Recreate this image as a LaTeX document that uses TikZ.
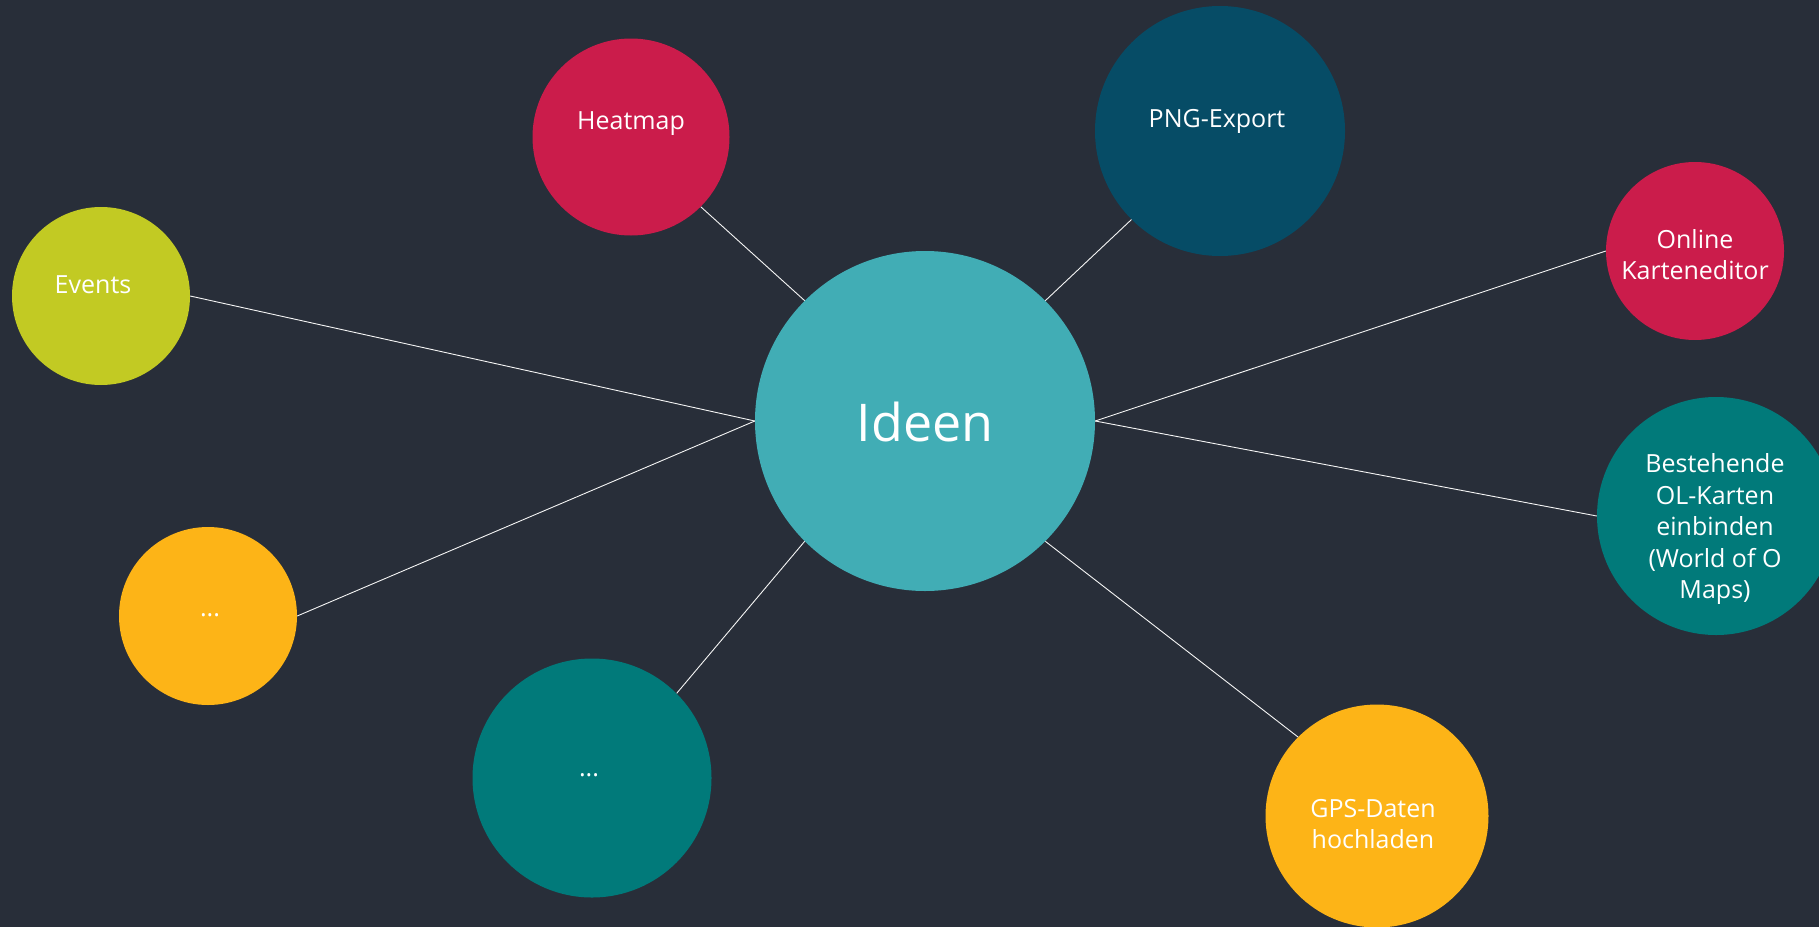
\documentclass[tikz,border=0pt]{standalone}
\usepackage{fontspec}
\setmainfont{Open Sans}
\definecolor{bg}{HTML}{282E39}
\definecolor{crimson}{HTML}{CB1C4B}
\definecolor{lime}{HTML}{C2CA23}
\definecolor{amber}{HTML}{FDB417}
\definecolor{teal2}{HTML}{017A7A}
\definecolor{navy2}{HTML}{064C66}
\definecolor{aqua}{HTML}{41ADB5}
\tikzset{
  bubble/.style={circle, inner sep=0pt, draw=none},
  lbl/.style={text=white, align=center, anchor=base, inner sep=0pt, font=\fontsize{25}{31.5}\selectfont},
  link/.style={draw=white!92!gray, line width=0.9pt}
}
\begin{document}
\begin{tikzpicture}[x=1pt,y=-1pt]
\useasboundingbox (0,0) rectangle (1819,926);
\clip (-6,-6) rectangle (1825,932);
\fill[bg] (-6,-6) rectangle (1825,932);
% bubbles
\node[bubble, fill=aqua, minimum size=340pt] (ideen) at (925,421) {};
\node[bubble, fill=crimson, minimum size=197pt] (heatmap) at (631,137) {};
\node[bubble, fill=navy2, minimum size=250pt] (png) at (1220,131) {};
\node[bubble, fill=lime, minimum size=178pt] (events) at (101,296) {};
\node[bubble, fill=crimson, minimum size=178pt] (online) at (1695,251) {};
\node[bubble, fill=teal2, minimum size=238pt] (best) at (1716,516) {};
\node[bubble, fill=amber, minimum size=178pt] (dotsA) at (208,616) {};
\node[bubble, fill=teal2, minimum size=239pt] (dotsB) at (592,778) {};
\node[bubble, fill=amber, minimum size=223pt] (gps) at (1377,816) {};
% connectors
\draw[link] (events.east) -- (ideen.west);
\draw[link] (dotsA.east) -- (ideen.west);
\draw[link] (dotsB.north east) -- (ideen.south west);
\draw[link] (heatmap.south east) -- (ideen.north west);
\draw[link] (png.south west) -- (ideen.north east);
\draw[link] (online.west) -- (ideen.east);
\draw[link] (best.west) -- (ideen.east);
\draw[link] (gps.north west) -- (ideen.south east);
% labels (base = baseline of last line)
\node[lbl, font=\fontsize{52}{60}\selectfont] (tIdeen) at (925,441) {Ideen};
\node[lbl] (tHeat) at (631,129) {Heatmap};
\node[lbl] (tPng) at (1217,127) {PNG-Export};
\node[lbl] (tEvents) at (93,293) {Events};
\node[lbl] (tOnline) at (1695,279.5) {Online\\Karteneditor};
\node[lbl] (tBest) at (1715,598.5) {Bestehende\\OL-Karten\\einbinden\\(World of O\\Maps)};
\node[lbl] (tGps) at (1373,848.5) {GPS-Daten\\hochladen};
\node[lbl] (tDotsA) at (210,616) {...};
\node[lbl] (tDotsB) at (589,776) {...};
\end{tikzpicture}
\end{document}
